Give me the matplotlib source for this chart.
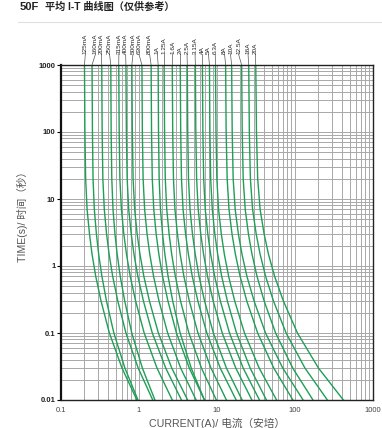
import matplotlib
matplotlib.use("Agg")
import matplotlib.pyplot as plt
from matplotlib.transforms import blended_transform_factory
from matplotlib.lines import Line2D

plt.rcParams['font.family'] = ['Liberation Sans', 'Noto Sans CJK SC', 'DejaVu Sans']

# ---- data ----
times = [1000, 100, 20, 7, 3, 1.5, 0.7, 0.3, 0.1, 0.03, 0.01]
ratings = ["125mA", "160mA", "200mA", "250mA", "315mA", "400mA", "500mA", "630mA",
           "800mA", "1A", "1.25A", "1.6A", "2A", "2.5A", "3.15A", "4A", "5A", "6.3A",
           "8A", "10A", "12.5A", "16A", "20A"]
c_125mA = [0.200, 0.2025, 0.207, 0.216, 0.232, 0.250, 0.279, 0.326, 0.417, 0.605, 0.94]
c_160mA = [0.25, 0.253, 0.2575, 0.2675, 0.2845, 0.304, 0.3345, 0.383, 0.476, 0.659, 0.97]
c_200mA = [0.333, 0.337, 0.344, 0.359, 0.384, 0.414, 0.460, 0.535, 0.680, 0.976, 1.5]
c_250mA = [0.435, 0.4395, 0.448, 0.464, 0.492, 0.525, 0.575, 0.656, 0.808, 1.104, 1.6]
c_315mA = [0.55, 0.557, 0.569, 0.595, 0.639, 0.691, 0.772, 0.905, 1.165, 1.70, 2.67]
c_400mA = [0.68, 0.689, 0.705, 0.738, 0.795, 0.862, 0.967, 1.14, 1.48, 2.20, 3.5]
c_500mA = [0.81, 0.821, 0.840, 0.880, 0.947, 1.029, 1.154, 1.361, 1.771, 2.63, 4.2]
c_630mA = [1.09, 1.104, 1.129, 1.181, 1.269, 1.374, 1.538, 1.805, 2.33, 3.42, 5.4]
c_800mA = [1.43, 1.448, 1.48, 1.547, 1.66, 1.796, 2.006, 2.35, 3.02, 4.41, 6.9]
c_1A = [1.76, 1.779, 1.813, 1.885, 2.005, 2.145, 2.36, 2.705, 3.37, 4.67, 6.9]
c_1_25A = [2.1, 2.126, 2.172, 2.268, 2.432, 2.625, 2.925, 3.41, 4.36, 6.32, 9.8]
c_1_6A = [2.67, 2.705, 2.766, 2.89, 3.11, 3.37, 3.765, 4.42, 5.70, 8.37, 13.2]
c_2A = [3.38, 3.425, 3.505, 3.67, 3.955, 4.296, 4.82, 5.685, 7.405, 11.0, 17.6]
c_2_5A = [4.16, 4.214, 4.31, 4.51, 4.85, 5.26, 5.89, 6.93, 8.98, 13.2, 21]
c_3_15A = [5.28, 5.35, 5.477, 5.74, 6.19, 6.73, 7.56, 8.93, 11.66, 17.4, 28]
c_4A = [6.5, 6.59, 6.75, 7.07, 7.62, 8.29, 9.33, 11.04, 14.46, 21.65, 35]
c_5A = [8.0, 8.11, 8.30, 8.70, 9.38, 10.2, 11.49, 13.59, 17.8, 26.6, 43]
c_6_3A = [9.57, 9.71, 9.96, 10.47, 11.36, 12.42, 14.1, 16.87, 22.5, 34.7, 58]
c_8A = [12.9, 13.1, 13.5, 14.25, 15.58, 17.2, 19.8, 24.1, 33.2, 53.4, 94]
c_10A = [15.4, 15.66, 16.12, 17.1, 18.8, 20.9, 24.2, 29.9, 41.9, 69.6, 127]
c_12_5A = [20.7, 21.05, 21.67, 23.0, 25.3, 28.1, 32.6, 40.2, 56.4, 93.5, 170]
c_16A = [25.5, 25.98, 26.8, 28.6, 31.8, 35.7, 42.0, 53.0, 76.9, 134, 260]
c_20A = [31.4, 32.06, 33.24, 35.7, 40.2, 45.7, 54.8, 71.0, 107.4, 199.8, 417]
curves = [c_125mA, c_160mA, c_200mA, c_250mA, c_315mA, c_400mA, c_500mA, c_630mA,
          c_800mA, c_1A, c_1_25A, c_1_6A, c_2A, c_2_5A, c_3_15A, c_4A, c_5A, c_6_3A,
          c_8A, c_10A, c_12_5A, c_16A, c_20A]
label_at = [0.205, 0.276, 0.330, 0.419, 0.552, 0.674, 0.837, 1.0, 1.37, 1.72, 2.10,
            2.69, 3.38, 4.13, 5.23, 6.56, 7.77, 9.49, 12.5, 14.9, 18.9, 25.0, 31.0]
x_ticks = [0.1, 1, 10, 100, 1000]
x_ticklabels = ["0.1", "1", "10", "100", "1000"]
y_ticks = [0.01, 0.1, 1, 10, 100, 1000]
y_ticklabels = ["0.01", "0.1", "1", "10", "100", "1000"]

W, H = 382, 428
fig = plt.figure(figsize=(W / 100, H / 100), dpi=100)
L, R, T, B = 61, 373, 65, 400
ax = fig.add_axes([L / W, 1 - B / H, (R - L) / W, (B - T) / H])
ax.set_xscale('log')
ax.set_yscale('log')
ax.set_xlim(0.1, 1000)
ax.set_ylim(0.01, 1000)

ax.grid(True, which='both', color='#a8a8a8', linewidth=0.7)
ax.set_axisbelow(True)

green = '#1f9e55'
for c in curves:
    ax.plot(c, times, color=green, linewidth=1.0, solid_joinstyle='round')

ax.set_xticks(x_ticks)
ax.set_xticklabels(x_ticklabels, fontsize=5.5, color='#444444')
ax.set_yticks(y_ticks)
ax.set_yticklabels(y_ticklabels, fontsize=5.5, fontweight='bold', color='#222222')
ax.tick_params(axis='both', which='minor', length=0)
ax.tick_params(axis='y', which='major', length=3, width=0.8, pad=1)
ax.tick_params(axis='x', which='major', length=0, pad=5)

for s in ['top', 'right', 'bottom']:
    ax.spines[s].set_linewidth(1.0)
    ax.spines[s].set_color('#222222')
ax.spines['left'].set_linewidth(1.6)
ax.spines['left'].set_color('#111111')

# curve labels with leader lines
tr = blended_transform_factory(ax.transData, ax.transAxes)
for name, c, lx in zip(ratings, curves, label_at):
    ax.add_line(Line2D([lx, c[0]], [1.032, 1.0], transform=tr, color='#555555',
                       linewidth=0.5, clip_on=False))
    ax.text(lx, 1.034, name, transform=tr, rotation=90, fontsize=4.6,
            ha='center', va='bottom', color='#222222', clip_on=False)

ax.set_xlabel("CURRENT(A)/ 电流（安培）", fontsize=7.7, color='#555555', labelpad=3)
ax.set_ylabel("TIME(s)/ 时间（秒）", fontsize=7.6, color='#555555')
ax.yaxis.set_label_coords(-0.106, 0.555)

fig.text(20 / W, 1 - 7 / H, "50F", fontsize=8, fontweight='bold', color='#222222',
         va='center', ha='left')
fig.text(45 / W, 1 - 7 / H, "平均 I-T 曲线图（仅供参考）", fontsize=7.3, color='#222222',
         va='center', ha='left', fontweight='bold')
fig.add_artist(Line2D([18 / W, 1.0], [1 - 22 / H, 1 - 22 / H], color='#e0e0e0',
                      linewidth=0.8, transform=fig.transFigure))

fig.savefig("out.png", dpi=100)
